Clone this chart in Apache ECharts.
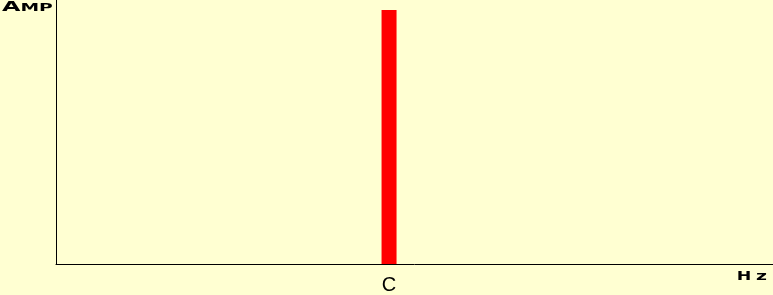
<!DOCTYPE html>
<html>
<head>
<meta charset="utf-8">
<script src="https://cdn.jsdelivr.net/npm/echarts@6/dist/echarts.min.js"></script>
<style>
html,body{margin:0;padding:0;background:#ffffd2;}
#chart{width:773px;height:295px;}
</style>
</head>
<body>
<div id="chart"></div>
<script>
// Data
const noteNames = ['C'];
const notePositions = [46.45];
const amplitudes = [96.2];
const xAxisTitle = 'Hz';
const yAxisTitle = 'Amp';

const chart = echarts.init(document.getElementById('chart'), null, {renderer: 'canvas'});
const seriesData = notePositions.map((p, i) => [p, amplitudes[i]]);

chart.setOption({
  backgroundColor: '#ffffd2',
  animation: false,
  grid: {left: 56, right: 0, top: 0, bottom: 31, containLabel: false},
  xAxis: {
    type: 'value', min: 0, max: 100,
    splitLine: {show: false},
    axisTick: {show: false},
    axisLine: {show: true, lineStyle: {color: '#000', width: 1}},
    axisLabel: {
      customValues: notePositions,
      formatter: function (v) {
        const i = notePositions.findIndex(p => Math.abs(p - v) < 1e-6);
        return i >= 0 ? noteNames[i] : '';
      },
      color: '#000', fontSize: 20, fontFamily: 'Liberation Sans', margin: 11
    }
  },
  yAxis: {
    type: 'value', min: 0, max: 100,
    splitLine: {show: false},
    axisTick: {show: false},
    axisLabel: {show: false},
    axisLine: {show: true, lineStyle: {color: '#000', width: 1}}
  },
  series: [{
    type: 'bar',
    data: seriesData,
    barWidth: 15,
    itemStyle: {color: '#ff0000'}
  }],
  graphic: [
    {
      type: 'text', left: 2, top: 0, scaleX: 1.7, originX: 0,
      style: {
        text: '{a|' + yAxisTitle.charAt(0).toUpperCase() + '}{b|' + yAxisTitle.slice(1).toUpperCase() + '}',
        rich: {
          a: {fontSize: 14, fontWeight: 'bold', fontFamily: 'DejaVu Sans', fill: '#000', verticalAlign: 'bottom'},
          b: {fontSize: 11, fontWeight: 'bold', fontFamily: 'DejaVu Sans', fill: '#000', verticalAlign: 'bottom'}
        }
      }
    },
    {
      type: 'text', right: 6, top: 270, scaleX: 1.45,
      style: {
        text: '{a|' + xAxisTitle.charAt(0) + '} {b|' + xAxisTitle.slice(1) + '}',
        rich: {
          a: {fontSize: 12, fontWeight: 'bold', fontFamily: 'DejaVu Sans', fill: '#000', verticalAlign: 'bottom'},
          b: {fontSize: 13, fontWeight: 'bold', fontFamily: 'DejaVu Sans', fill: '#000', verticalAlign: 'bottom'}
        }
      }
    }
  ]
});
</script>
</body>
</html>
